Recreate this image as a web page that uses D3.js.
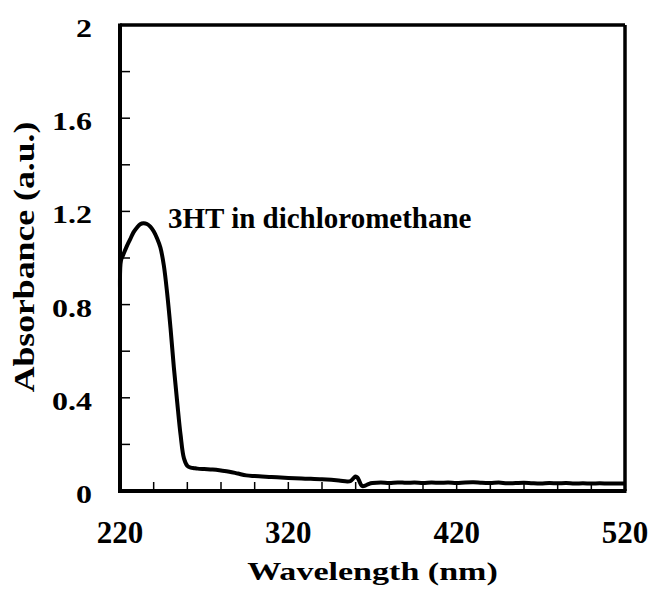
<!DOCTYPE html>
<html><head><meta charset="utf-8">
<script src="https://cdn.jsdelivr.net/npm/d3@7"></script>
<style>body{margin:0;background:#fff}svg{display:block}text{font-family:"Liberation Serif","Times New Roman",serif;font-weight:bold;fill:#000}</style>
</head><body><svg id="c" width="654" height="590"></svg>
<script>
const wavelength = [220,220.6,222,224,226,228,230,232,234,236,238,240,242,244,246,248,250,252,254,256,258,260,262,264,266,270,275,280,285,290,295,300,310,320,330,340,350,355,357,359,360,361,362,363,364,366,368,370,375,380,385,390,395,400,405,410,415,420,425,430,435,440,445,450,455,460,465,470,475,480,485,490,495,500,505,510,515,520];
const absorbance = [0.87,0.99,1.015,1.05,1.08,1.11,1.13,1.145,1.149,1.146,1.135,1.115,1.085,1.045,0.97,0.85,0.70,0.53,0.38,0.24,0.14,0.108,0.10,0.098,0.096,0.094,0.092,0.088,0.083,0.075,0.067,0.064,0.060,0.056,0.053,0.050,0.045,0.041,0.043,0.057,0.062,0.058,0.045,0.029,0.021,0.024,0.031,0.034,0.036,0.034,0.037,0.035,0.036,0.034,0.036,0.035,0.036,0.034,0.037,0.038,0.035,0.034,0.036,0.033,0.034,0.035,0.033,0.032,0.034,0.033,0.034,0.032,0.033,0.032,0.033,0.032,0.032,0.032];
const xTickLabels = [220,320,420,520];
const yTickLabels = [0,0.4,0.8,1.2,1.6,2];
const xMinorTicks = d3.range(220,521,20);
const yMinorTicks = d3.range(0,2.01,0.2);
const annotation = "3HT in dichloromethane";

const svg = d3.select("#c");
const L=120,R=625,T=25,B=491;
const x = d3.scaleLinear().domain([220,520]).range([L,R]);
const y = d3.scaleLinear().domain([0,2]).range([B,T]);

// minor ticks (inward)
svg.append("g").selectAll("line").data(xMinorTicks).join("line")
  .attr("x1",d=>x(d)).attr("x2",d=>x(d)).attr("y1",B).attr("y2",B-9)
  .attr("stroke","#000").attr("stroke-width",1.5);
svg.append("g").selectAll("line").data(yMinorTicks).join("line")
  .attr("y1",d=>y(d)).attr("y2",d=>y(d)).attr("x1",L).attr("x2",L+10)
  .attr("stroke","#000").attr("stroke-width",1.5);

// curve
const pts = wavelength.map((w,i)=>[w,absorbance[i]]);
svg.append("path").datum(pts)
  .attr("d",d3.line().x(d=>x(d[0])).y(d=>y(d[1])).curve(d3.curveCatmullRom))
  .attr("fill","none").attr("stroke","#000").attr("stroke-width",4).attr("stroke-linejoin","round");

// frame
svg.append("line").attr("x1",L).attr("x2",R).attr("y1",T).attr("y2",T).attr("stroke","#000").attr("stroke-width",3.5);
svg.append("line").attr("x1",R).attr("x2",R).attr("y1",T).attr("y2",B).attr("stroke","#000").attr("stroke-width",3.5);
svg.append("line").attr("x1",L).attr("x2",R+1.5).attr("y1",B).attr("y2",B).attr("stroke","#000").attr("stroke-width",4);
svg.append("line").attr("x1",L).attr("x2",L).attr("y1",T-1.5).attr("y2",B+2).attr("stroke","#000").attr("stroke-width",4);

// tick labels
svg.append("g").selectAll("text").data(xTickLabels).join("text")
  .attr("x",d=>x(d)).attr("y",543).attr("text-anchor","middle").attr("font-size",31).text(d=>d);
svg.append("g").selectAll("text").data(yTickLabels).join("text")
  .attr("transform",d=>`translate(92,${y(d)+12}) scale(1.28,1)`)
  .attr("text-anchor","end").attr("font-size",25).text(d=>d);

// axis titles
svg.append("text").attr("transform","translate(372.5,580) scale(1.31,1)")
  .attr("text-anchor","middle").attr("font-size",26).text("Wavelength (nm)");
svg.append("text").attr("transform","translate(34,257) rotate(-90) scale(1.19,1)")
  .attr("text-anchor","middle").attr("font-size",30).text("Absorbance (a.u.)");

// annotation
svg.append("text").attr("x",168).attr("y",228).attr("font-size",29).text(annotation);
</script></body></html>
